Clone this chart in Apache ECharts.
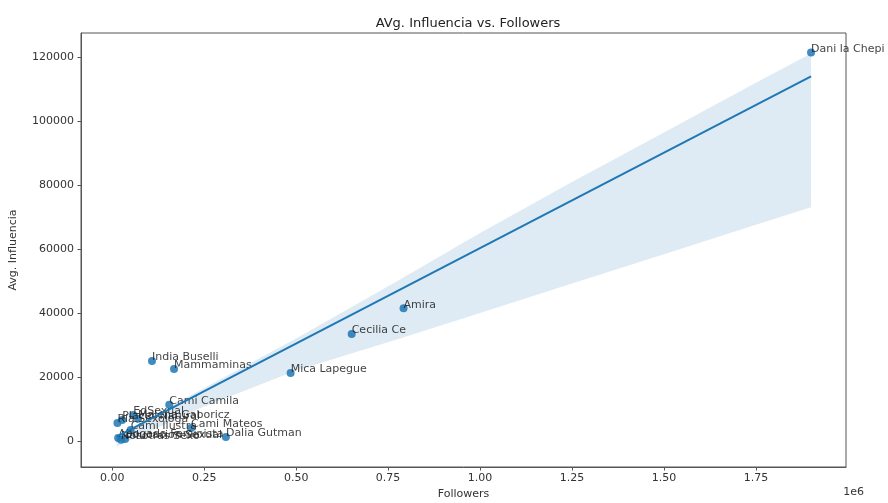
<!DOCTYPE html>
<html>
<head>
<meta charset="utf-8">
<script src="https://cdn.jsdelivr.net/npm/echarts@6/dist/echarts.min.js"></script>
<style>
  html, body { margin: 0; padding: 0; background: #fff; }
  #main { width: 888px; height: 503px; }
</style>
</head>
<body>
<div id="main"></div>
<script>
// cuentas y sus valores
var names = ['Dani la Chepi', 'Amira', 'Cecilia Ce', 'Mica Lapegue', 'India Buselli', 'Mammaminas',
  'Cami Camila', 'EdSexual', 'Ria Sexologa', 'Malena Gaboricz', 'Placer Natural', 'Cami Ilustra',
  'Cami Mateos', 'Dalia Gutman', 'Abogada Feminista', 'Nosotras Sexo', 'Educacion Sexual'];
var followers = [1900000, 792000, 651000, 485000, 108000, 168000,
  155000, 57000, 14000, 70000, 27000, 50000,
  214000, 309000, 16000, 24000, 35000];
var influencia = [121500, 41500, 33400, 21200, 25000, 22500,
  11300, 8100, 5600, 6900, 6500, 3400,
  4000, 1200, 900, 300, 600];

// recta de regresion (extremos) y banda de confianza
var fitX = [12000, 1900000];
var fitY = [1300, 114000];
var bandX = [12000, 240000, 500000, 780000, 1000000, 1250000, 1500000, 1750000, 1900000];
var bandUpper = [1500, 15900, 32000, 50300, 65000, 81000, 96500, 112000, 121200];
var bandLower = [-1800, 10300, 22000, 31900, 40000, 49200, 58400, 67600, 73100];

var xTicks = [0, 250000, 500000, 750000, 1000000, 1250000, 1500000, 1750000];
var yTicks = [0, 20000, 40000, 60000, 80000, 100000, 120000];

var chart = echarts.init(document.getElementById('main'));

var points = names.map(function (n, i) {
  return { name: n, value: [followers[i], influencia[i]] };
});
var band = bandX.map(function (x, i) { return [x, bandLower[i], bandUpper[i]]; });

var axisText = { color: '#333', fontSize: 11, fontFamily: 'DejaVu Sans' };

var option = {
  animation: false,
  title: {
    text: 'AVg. Influencia vs. Followers',
    left: 463, top: 12, textAlign: 'center',
    textStyle: { fontFamily: 'DejaVu Sans', fontSize: 13, fontWeight: 'normal', color: '#222' }
  },
  grid: {
    left: 81, right: 42, top: 33, bottom: 36,
    containLabel: false, outerBoundsMode: 'none',
    show: true, borderColor: '#555', borderWidth: 1, backgroundColor: 'transparent'
  },
  xAxis: {
    type: 'value', min: -85000, max: 1995000,
    name: 'Followers', nameLocation: 'middle', nameGap: 22,
    nameTextStyle: { fontFamily: 'DejaVu Sans', fontSize: 11, color: '#333' },
    axisLine: { show: true, onZero: false, lineStyle: { color: '#555' } },
    axisTick: { show: true, length: 3.5, customValues: xTicks, lineStyle: { color: '#555' } },
    axisLabel: Object.assign({ margin: 6, customValues: xTicks,
      formatter: function (v) { return (v / 1e6).toFixed(2); } }, axisText),
    splitLine: { show: false }
  },
  yAxis: {
    type: 'value', min: -8200, max: 127600,
    name: 'Avg. Influencia', nameLocation: 'middle', nameGap: 62,
    nameTextStyle: { fontFamily: 'DejaVu Sans', fontSize: 11, color: '#333' },
    axisLine: { show: true, onZero: false, lineStyle: { color: '#555' } },
    axisTick: { show: true, length: 3.5, customValues: yTicks, lineStyle: { color: '#555' } },
    axisLabel: Object.assign({ margin: 7, customValues: yTicks,
      formatter: function (v) { return String(v); } }, axisText),
    splitLine: { show: false }
  },
  graphic: [{
    type: 'text', right: 24, top: 487,
    style: { text: '1e6', fontFamily: 'DejaVu Sans', fontSize: 11, fill: '#333' }
  }],
  series: [
    {
      type: 'custom',
      data: band,
      z: 1,
      silent: true,
      renderItem: function (params, api) {
        if (params.dataIndex !== 0) return;
        var top = [], bottom = [];
        for (var i = 0; i < band.length; i++) {
          top.push(api.coord([band[i][0], band[i][2]]));
          bottom.unshift(api.coord([band[i][0], band[i][1]]));
        }
        return {
          type: 'polygon',
          shape: { points: top.concat(bottom) },
          style: { fill: 'rgba(31,119,180,0.15)', stroke: null }
        };
      }
    },
    {
      type: 'scatter',
      data: points,
      z: 2,
      symbolSize: 8,
      itemStyle: { color: '#1f77b4', opacity: 0.85 },
      label: {
        show: true,
        formatter: '{b}',
        position: [4, 6],
        align: 'left',
        verticalAlign: 'bottom',
        fontFamily: 'DejaVu Sans',
        fontSize: 11,
        color: '#222'
      }
    },
    {
      type: 'line',
      data: fitX.map(function (x, i) { return [x, fitY[i]]; }),
      z: 3,
      showSymbol: false,
      lineStyle: { color: '#1f77b4', width: 2 }
    }
  ]
};

chart.setOption(option);
</script>
</body>
</html>
